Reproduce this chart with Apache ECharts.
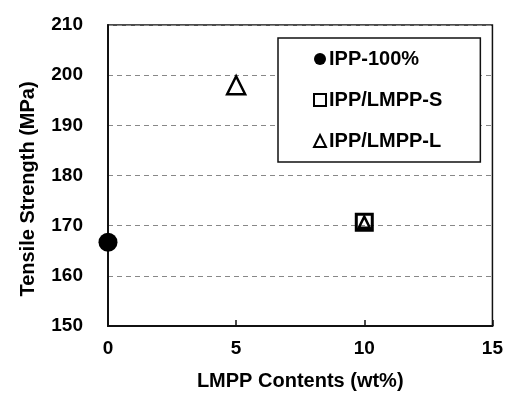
<!DOCTYPE html>
<html>
<head>
<meta charset="utf-8">
<script src="https://cdn.jsdelivr.net/npm/echarts@6/dist/echarts.min.js"></script>
<style>
  html, body { margin: 0; padding: 0; background: #fff; }
  #chart { width: 506px; height: 396px; }
</style>
</head>
<body>
<div id="chart"></div>
<script>
  // values
  const seriesNames = ['IPP-100%', 'IPP/LMPP-S', 'IPP/LMPP-L']
  const ipp100 = [[0, 166.7]]
  const lmppS = [[10, 170.7]]
  const lmppL = [[5, 198.0], [10, 170.7]]

  const FONT = '"Liberation Sans", Arial, sans-serif'

  const chart = echarts.init(document.getElementById('chart'))

  chart.setOption({
    backgroundColor: '#fff',
    animation: false,
    grid: {
      left: 108,
      right: 9,
      top: 25,
      bottom: 68,
      show: true,
      borderColor: '#111',
      borderWidth: 1.5
    },
    legend: {
      orient: 'vertical',
      left: 278,
      top: 38,
      padding: [11, 38, 11, 35],
      itemGap: 21,
      itemWidth: 12,
      itemHeight: 12,
      borderColor: '#111',
      borderWidth: 1.5,
      backgroundColor: '#fff',
      textStyle: {
        fontFamily: FONT,
        fontWeight: 'bold',
        fontSize: 20,
        color: '#000',
        padding: [0, 0, 0, -2]
      },
      data: [
        { name: seriesNames[0], icon: 'circle', itemStyle: { color: '#000', borderWidth: 0, opacity: 1 } },
        { name: seriesNames[1], icon: 'rect', itemStyle: { color: '#fff', borderColor: '#000', borderWidth: 2, opacity: 1 } },
        { name: seriesNames[2], icon: 'triangle', itemStyle: { color: '#fff', borderColor: '#000', borderWidth: 2, opacity: 1 } }
      ]
    },
    xAxis: {
      type: 'value',
      min: 0,
      max: 15,
      interval: 5,
      name: 'LMPP Contents (wt%)',
      nameLocation: 'middle',
      nameGap: 45,
      nameTextStyle: {
        fontFamily: FONT,
        fontWeight: 'bold',
        fontSize: 20,
        color: '#000'
      },
      axisLine: { lineStyle: { color: '#111', width: 2 } },
      axisTick: { inside: true, length: 6, lineStyle: { color: '#111', width: 1.5 } },
      axisLabel: {
        margin: 13,
        fontFamily: FONT,
        fontWeight: 'bold',
        fontSize: 19,
        color: '#000'
      },
      splitLine: { show: false }
    },
    yAxis: {
      type: 'value',
      min: 150,
      max: 210,
      interval: 10,
      name: 'Tensile Strength (MPa)',
      nameLocation: 'middle',
      nameGap: 70,
      nameTextStyle: {
        fontFamily: FONT,
        fontWeight: 'bold',
        fontSize: 20,
        color: '#000',
        padding: [0, 27, 0, 0]
      },
      axisLine: { lineStyle: { color: '#111', width: 2 } },
      axisTick: { show: false },
      axisLabel: {
        margin: 25,
        fontFamily: FONT,
        fontWeight: 'bold',
        fontSize: 19,
        color: '#000'
      },
      splitLine: {
        lineStyle: { color: '#888', width: 1, type: [5, 4] }
      }
    },
    series: [
      {
        name: seriesNames[0],
        type: 'scatter',
        z: 5,
        symbol: 'circle',
        symbolSize: 19,
        itemStyle: { color: '#000', opacity: 1 },
        data: ipp100
      },
      {
        name: seriesNames[1],
        type: 'scatter',
        z: 5,
        symbol: 'rect',
        symbolSize: 16,
        itemStyle: { color: 'rgba(255,255,255,0)', borderColor: '#000', borderWidth: 3, opacity: 1 },
        data: lmppS
      },
      {
        name: seriesNames[2],
        type: 'scatter',
        z: 6,
        symbol: 'triangle',
        symbolSize: (val, p) => p.dataIndex === 1 ? [11, 11] : [18, 18],
        itemStyle: { color: 'rgba(255,255,255,0)', borderColor: '#000', borderWidth: 2.5, opacity: 1 },
        data: lmppL
      }
    ]
  })
</script>
</body>
</html>
